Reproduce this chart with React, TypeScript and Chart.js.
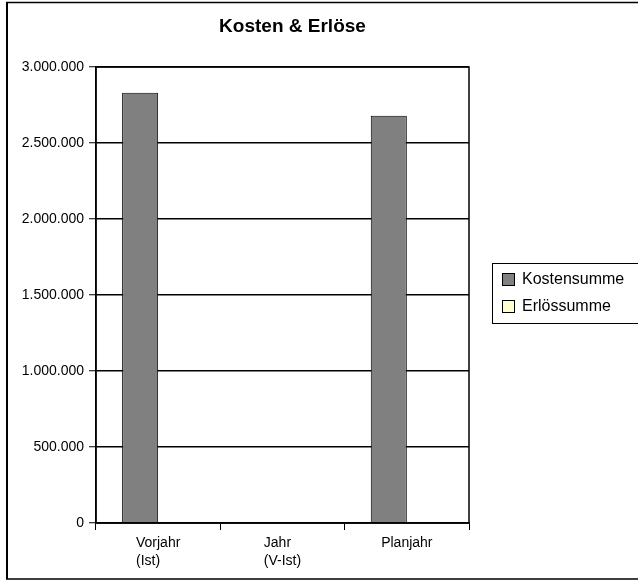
import React, { useEffect, useRef } from "react";
import { Chart, registerables } from "chart.js";

Chart.register(...registerables);

const TITLE = "Kosten & Erlöse";
const categories: string[][] = [["Vorjahr", "(Ist)"], ["Jahr", "(V-Ist)"], ["Planjahr"]];
const kostensumme: number[] = [2830000, 0, 2680000];
const erloessumme: number[] = [0, 0, 0];
const seriesNames: string[] = ["Kostensumme", "Erlössumme"];
const seriesColors: string[] = ["#808080", "#FFFFCC"];
const yMin = 0;
const yMax = 3000000;
const yStep = 500000;

const FONT = "'Liberation Sans', Arial, sans-serif";

function fmt(v: number): string {
  return String(Math.round(v)).replace(/\B(?=(\d{3})+(?!\d))/g, ".");
}

const decorPlugin = {
  id: "decor",
  afterDraw(chart: any) {
    const ctx = chart.ctx;
    const area = chart.chartArea;
    ctx.save();
    // outer frame
    ctx.strokeStyle = "#000";
    ctx.lineWidth = 2;
    ctx.beginPath();
    ctx.moveTo(7, 2);
    ctx.lineTo(7, 579);
    ctx.stroke();
    ctx.lineWidth = 1.5;
    ctx.beginPath();
    ctx.moveTo(6, 2.5);
    ctx.lineTo(660, 2.5);
    ctx.moveTo(6, 579);
    ctx.lineTo(660, 579);
    ctx.stroke();
    // plot frame
    ctx.lineWidth = 1.5;
    ctx.strokeRect(area.left, area.top, area.right - area.left, area.bottom - area.top);
    // title
    ctx.fillStyle = "#000";
    ctx.font = `bold 19px ${FONT}`;
    ctx.textAlign = "center";
    ctx.textBaseline = "middle";
    ctx.fillText(TITLE, 292.5, 27);
    // x labels: block centred, lines left-aligned
    const xs = chart.scales.x;
    ctx.font = `14px ${FONT}`;
    ctx.textAlign = "left";
    categories.forEach((lines, i) => {
      const cx = xs.getPixelForTick(i);
      const w = Math.max(...lines.map((l) => ctx.measureText(l).width));
      lines.forEach((l, j) => {
        ctx.fillText(l, cx - w / 2, 543 + j * 18);
      });
    });
    // legend
    ctx.lineWidth = 1;
    ctx.strokeStyle = "#000";
    ctx.strokeRect(492.5, 263.5, 200, 60);
    ctx.font = `16px ${FONT}`;
    seriesNames.forEach((name, i) => {
      const y = 273 + i * 27;
      ctx.fillStyle = seriesColors[i];
      ctx.fillRect(502, y, 13, 13);
      ctx.strokeStyle = "#000";
      ctx.strokeRect(502.5, y + 0.5, 12, 12);
      ctx.fillStyle = "#000";
      ctx.textBaseline = "middle";
      ctx.fillText(name, 522, y + 7);
    });
    ctx.restore();
  },
};

export default function App() {
  const ref = useRef<HTMLCanvasElement | null>(null);
  useEffect(() => {
    if (!ref.current) return;
    const chart = new Chart(ref.current, {
      type: "bar",
      data: {
        labels: categories.map((c) => c.join(" ")),
        datasets: [
          {
            label: seriesNames[0],
            data: kostensumme,
            backgroundColor: seriesColors[0],
            borderColor: "#000",
            borderWidth: 1,
            categoryPercentage: 0.58,
            barPercentage: 1,
          },
          {
            label: seriesNames[1],
            data: erloessumme,
            backgroundColor: seriesColors[1],
            borderColor: "#000",
            borderWidth: 0,
            categoryPercentage: 0.58,
            barPercentage: 1,
          },
        ],
      },
      options: {
        animation: false,
        responsive: false,
        devicePixelRatio: 1,
        layout: { padding: { left: 0, top: 67, right: 169, bottom: 0 } },
        plugins: { legend: { display: false }, title: { display: false }, tooltip: { enabled: false } },
        scales: {
          x: {
            offset: true,
            grid: { display: true, offset: true, drawOnChartArea: false, drawTicks: true, tickLength: 7, color: "#000", lineWidth: 1 },
            border: { display: true, color: "#000", width: 1.5 },
            ticks: { display: false },
            afterFit(scale: any) {
              scale.height = 58;
            },
          },
          y: {
            min: yMin,
            max: yMax,
            grid: { color: "#000", lineWidth: 1.5, drawTicks: true, tickLength: 7, tickColor: "#000", tickWidth: 1 },
            border: { display: true, color: "#000", width: 1.5 },
            ticks: {
              stepSize: yStep,
              color: "#000",
              padding: 5,
              font: { family: FONT, size: 14 },
              callback: (v: any) => fmt(Number(v)),
            },
            afterFit(scale: any) {
              scale.width = 96;
            },
          },
        },
      },
      plugins: [decorPlugin],
    });
    return () => chart.destroy();
  }, []);
  return (
    <div style={{ position: "fixed", left: 0, top: 0, width: 638, height: 581, background: "#fff" }}>
      <canvas ref={ref} width={638} height={581} style={{ width: 638, height: 581, display: "block" }} />
    </div>
  );
}
